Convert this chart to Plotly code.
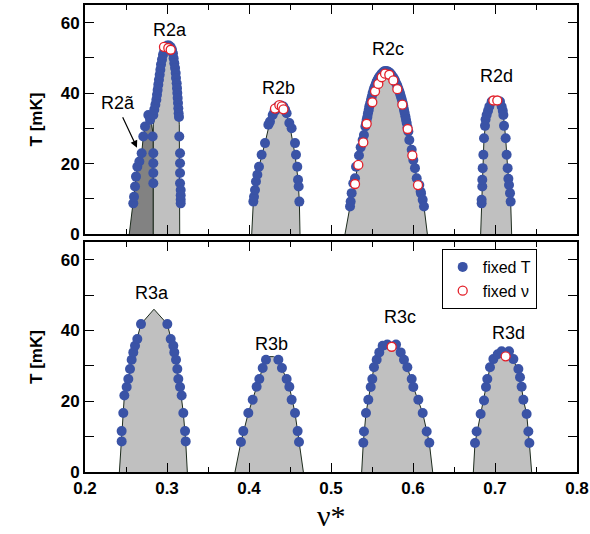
import plotly.graph_objects as go

# ---------------- data (nu*, T in mK) ----------------
# dome outlines, top panel
r2t_ox = [0.2540, 0.2589, 0.2610, 0.2638, 0.2663, 0.2691, 0.2711, 0.2732, 0.2772, 0.2813, 0.2833, 0.2833]
r2t_oT = [0, 8.7, 13.5, 19.1, 20.6, 22.9, 27.7, 30.5, 33.8, 31.0, 28.0, 0]
r2a_ox = [0.2833, 0.2833, 0.2854, 0.2894, 0.2935, 0.2984, 0.3024, 0.3073, 0.3106, 0.3126, 0.3142, 0.3150, 0.3155]
r2a_oT = [0, 31.0, 33.8, 42.4, 49.5, 53.1, 53.5, 51.2, 45.7, 40.0, 34.3, 31.0, 0]
r2b_ox = [0.4033, 0.4053, 0.4085, 0.4122, 0.4195, 0.4256, 0.4329, 0.4370, 0.4419, 0.4492, 0.4561, 0.4598, 0.4614, 0.4622]
r2b_oT = [0, 9.2, 14.9, 19.1, 25.8, 31.9, 35.3, 36.8, 36.2, 31.5, 22.5, 15.4, 9.2, 0]
r2c_ox = [0.5171, 0.5232, 0.5293, 0.5341, 0.5386, 0.5435, 0.5508, 0.5577, 0.5650, 0.5687, 0.5752, 0.5833, 0.5907, 0.5984, 0.6045, 0.6098, 0.6134, 0.6175]
r2c_oT = [0, 7.8, 14.2, 22.5, 26.7, 32.4, 40.0, 44.5, 46.2, 46.2, 44.7, 40.5, 33.4, 23.9, 16.0, 9.2, 7.8, 0]
r2d_ox = [0.6825, 0.6837, 0.6850, 0.6866, 0.6898, 0.6959, 0.7008, 0.7061, 0.7102, 0.7130, 0.7154, 0.7191, 0.7203]
r2d_oT = [0, 8.7, 18.7, 27.2, 33.8, 37.6, 38.6, 37.6, 33.8, 27.2, 18.7, 9.2, 0]

# dome outlines, bottom panel
r3a_ox = [0.2419, 0.2447, 0.2480, 0.2528, 0.2589, 0.2683, 0.2841, 0.3004, 0.3089, 0.3159, 0.3199, 0.3228, 0.3248]
r3a_oT = [0, 8.65, 21.6, 26.3, 33.8, 41.8, 46.0, 41.8, 33.8, 24.0, 16.7, 8.65, 0]
r3b_ox = [0.3829, 0.3902, 0.3992, 0.4093, 0.4167, 0.4207, 0.4230, 0.4300, 0.4358, 0.4402, 0.4492, 0.4561, 0.4610, 0.4663]
r3b_oT = [0, 8.46, 16.7, 24.1, 29.4, 31.7, 32.6, 32.6, 31.7, 29.4, 24.1, 16.7, 8.46, 0]
r3c_ox = [0.5374, 0.5394, 0.5427, 0.5484, 0.5524, 0.5589, 0.5687, 0.5740, 0.5793, 0.5850, 0.5931, 0.6004, 0.6118, 0.6199, 0.6240]
r3c_oT = [0, 8.27, 16.7, 24.0, 29.6, 33.8, 36.0, 36.6, 36.0, 33.8, 29.6, 24.0, 16.7, 8.27, 0]
r3d_ox = [0.6736, 0.6756, 0.6825, 0.6890, 0.6939, 0.7033, 0.7130, 0.7224, 0.7305, 0.7346, 0.7386, 0.7419, 0.7447]
r3d_oT = [0, 8.18, 16.4, 24.0, 29.6, 33.3, 34.3, 31.9, 26.8, 20.4, 16.4, 8.18, 0]

# fixed-T measurements (blue dots), top panel
r2t_x = [0.2589, 0.2598, 0.2610, 0.2622, 0.2638, 0.2663, 0.2691, 0.2711, 0.2732, 0.2772, 0.2793,
         0.2825, 0.2833, 0.2833, 0.2833, 0.2833]
r2t_T = [8.7, 10.6, 13.5, 16.3, 19.1, 20.6, 22.9, 27.7, 30.5, 33.8, 32.4,
         27.7, 22.9, 20.1, 17.3, 14.4]
r2a_x = [0.2833, 0.2845, 0.2858, 0.2870, 0.2878, 0.2886, 0.2894, 0.2902, 0.2911, 0.2919, 0.2927, 0.2939,
         0.2951, 0.2967, 0.2984, 0.3004, 0.3024, 0.3045, 0.3061, 0.3073, 0.3081, 0.3089, 0.3098, 0.3106,
         0.3110, 0.3118, 0.3122, 0.3126, 0.3130, 0.3134, 0.3138, 0.3142, 0.3146,
         0.3150, 0.3159, 0.3159, 0.3159, 0.3159, 0.3167, 0.3167, 0.3167, 0.3167]
r2a_T = [33.8, 35.3, 36.7, 38.1, 39.5, 40.9, 42.4, 43.8, 45.2, 46.6, 48.1, 49.5,
         50.9, 52.1, 53.1, 53.5, 53.5, 53.1, 52.3, 51.2, 49.9, 48.5, 47.1, 45.7,
         44.3, 42.8, 41.4, 40.0, 38.6, 37.2, 35.7, 34.3, 33.2,
         27.7, 22.9, 20.1, 17.3, 14.4, 12.5, 9.7, 8.7, 11.0]
r2b_x = [0.4053, 0.4061, 0.4073, 0.4085, 0.4102, 0.4122, 0.4154, 0.4195, 0.4236, 0.4256, 0.4289, 0.4310,
         0.4329, 0.4350, 0.4390, 0.4419, 0.4440, 0.4459, 0.4492, 0.4520, 0.4561, 0.4573, 0.4589, 0.4598,
         0.4606, 0.4614]
r2b_T = [9.2, 10.6, 12.5, 14.9, 16.8, 19.1, 22.5, 25.8, 31.0, 31.9, 33.8, 34.8,
         35.3, 36.2, 36.5, 36.2, 35.3, 34.3, 31.5, 30.0, 25.8, 22.5, 19.1, 15.4,
         13.5, 9.2]
r2c_x = [0.5232, 0.5240, 0.5252, 0.5272, 0.5293, 0.5305, 0.5341, 0.5362, 0.5386, 0.5402, 0.5419, 0.5435,
         0.5451, 0.5467, 0.5488, 0.5508, 0.5532, 0.5557, 0.5585, 0.5618, 0.5650, 0.5687, 0.5720, 0.5752,
         0.5780, 0.5809, 0.5833, 0.5854, 0.5874, 0.5890, 0.5907, 0.5923, 0.5943, 0.5955, 0.5984, 0.6004,
         0.6024, 0.6045, 0.6077, 0.6093, 0.6098, 0.6118, 0.6134,
         0.5428, 0.5444, 0.5460, 0.5478, 0.5498, 0.5520, 0.5545, 0.5571, 0.5600, 0.5634, 0.5668, 0.5704,
         0.5736, 0.5766, 0.5795, 0.5821, 0.5844, 0.5864, 0.5882, 0.5898, 0.5915, 0.5933]
r2c_T = [7.8, 9.2, 11.6, 14.4, 15.8, 19.1, 22.3, 24.6, 26.7, 28.1, 30.5, 32.4,
         34.3, 36.2, 38.1, 40.0, 41.7, 43.3, 44.5, 45.5, 46.2, 46.2, 45.7, 44.7,
         43.6, 42.1, 40.5, 38.9, 37.2, 35.3, 33.4, 31.5, 29.1, 26.7, 23.9, 21.0,
         18.7, 15.8, 13.9, 12.0, 11.5, 9.7, 7.8,
         31.4, 33.3, 35.2, 37.1, 39.0, 40.9, 42.5, 43.9, 45.0, 45.9, 46.3, 46.0,
         45.2, 44.2, 42.8, 41.3, 39.7, 38.1, 36.3, 34.4, 32.4, 30.3]
r2d_x = [0.6837, 0.6837, 0.6845, 0.6845, 0.6850, 0.6858, 0.6866, 0.6878, 0.6885, 0.6898, 0.6915, 0.6931,
         0.6959, 0.7061, 0.7081, 0.7095, 0.7102, 0.7110, 0.7130, 0.7142, 0.7154, 0.7163, 0.7171, 0.7183,
         0.7191]
r2d_T = [8.7, 9.7, 13.5, 15.4, 18.7, 22.5, 27.2, 30.7, 32.5, 33.8, 35.0, 36.2,
         37.6, 37.6, 36.2, 35.0, 33.8, 30.7, 27.2, 22.5, 18.7, 15.7, 13.9, 11.6,
         9.2]

# fixed-T measurements (blue dots), bottom panel
r3a_x = [0.2447, 0.2447, 0.2467, 0.2480, 0.2508, 0.2528, 0.2549, 0.2569, 0.2589, 0.2610, 0.2638, 0.2683,
         0.3004, 0.3045, 0.3077, 0.3089, 0.3110, 0.3126, 0.3138, 0.3159, 0.3179, 0.3199, 0.3220, 0.3228]
r3a_T = [8.65, 11.56, 16.7, 21.6, 24.0, 26.3, 29.1, 31.7, 33.8, 35.7, 37.6, 41.8,
         41.8, 37.6, 35.7, 33.8, 31.7, 29.1, 26.3, 24.0, 21.6, 16.7, 11.56, 8.65]
r3b_x = [0.3902, 0.3931, 0.3992, 0.4045, 0.4093, 0.4126, 0.4167, 0.4207,
         0.4358, 0.4402, 0.4459, 0.4492, 0.4520, 0.4561, 0.4593, 0.4610]
r3b_T = [8.46, 11.56, 16.7, 20.4, 24.1, 26.3, 29.4, 31.7,
         31.7, 29.4, 26.3, 24.1, 20.4, 16.7, 11.56, 8.46]
r3c_x = [0.5394, 0.5402, 0.5427, 0.5455, 0.5484, 0.5504, 0.5524, 0.5557, 0.5589, 0.5630, 0.5687,
         0.5793, 0.5850, 0.5890, 0.5931, 0.5984, 0.6004, 0.6065, 0.6118, 0.6167, 0.6199]
r3c_T = [8.27, 11.46, 16.7, 20.4, 24.0, 26.3, 29.6, 31.7, 33.8, 35.7, 36.0,
         36.0, 33.8, 31.7, 29.6, 26.3, 24.0, 20.4, 16.7, 11.46, 8.27]
r3d_x = [0.6756, 0.6776, 0.6825, 0.6866, 0.6890, 0.6906, 0.6939, 0.6980, 0.7033, 0.7081,
         0.7171, 0.7224, 0.7285, 0.7305, 0.7325, 0.7346, 0.7386, 0.7407, 0.7419]
r3d_T = [8.18, 11.46, 16.4, 20.2, 24.0, 26.3, 29.6, 31.9, 33.3, 34.1,
         34.1, 31.9, 29.1, 26.8, 24.1, 20.4, 16.4, 11.46, 8.18]

# fixed-nu measurements (red open circles)
nu_top_x = [0.2963, 0.3016, 0.3045,
            0.4317, 0.4370, 0.4400, 0.4420,
            0.5293, 0.5333, 0.5394, 0.5435, 0.5504, 0.5537, 0.5577, 0.5618, 0.5659, 0.5711,
            0.5760, 0.5809, 0.5870, 0.5935, 0.5992, 0.6061,
            0.6980, 0.7028]
nu_top_T = [53.1, 52.8, 52.3,
            35.6, 36.6, 36.2, 35.4,
            14.2, 19.6, 26.0, 31.3, 37.4, 40.5, 42.6, 44.5, 45.5, 45.2,
            43.6, 41.1, 36.7, 29.8, 22.3, 13.9,
            37.9, 37.9]
nu_bot_x = [0.5740, 0.7130]
nu_bot_T = [35.4, 32.7]

# ---------------- figure ----------------
LIGHT = "#c0c0c0"
DARK = "#828282"
BLUE = "#3a53a6"
RED = "#e3202a"
OUT = "#1d2b1d"

fig = go.Figure()

def dome(x, T, fill, xa, ya):
    fig.add_trace(go.Scatter(x=x, y=T, mode="lines", fill="toself", fillcolor=fill,
                             line=dict(color=OUT, width=1), xaxis=xa, yaxis=ya,
                             showlegend=False, hoverinfo="skip"))

dome(r2t_ox, r2t_oT, DARK, "x", "y")
dome(r2a_ox, r2a_oT, LIGHT, "x", "y")
dome(r2b_ox, r2b_oT, LIGHT, "x", "y")
dome(r2c_ox, r2c_oT, LIGHT, "x", "y")
dome(r2d_ox, r2d_oT, LIGHT, "x", "y")
dome(r3a_ox, r3a_oT, LIGHT, "x2", "y2")
dome(r3b_ox, r3b_oT, LIGHT, "x2", "y2")
dome(r3c_ox, r3c_oT, LIGHT, "x2", "y2")
dome(r3d_ox, r3d_oT, LIGHT, "x2", "y2")

blue_m = dict(color=BLUE, size=10, line=dict(width=0))
red_m = dict(color="white", size=9, line=dict(color=RED, width=1.3))

top_bx = r2t_x + r2a_x + r2b_x + r2c_x + r2d_x
top_bT = r2t_T + r2a_T + r2b_T + r2c_T + r2d_T
bot_bx = r3a_x + r3b_x + r3c_x + r3d_x
bot_bT = r3a_T + r3b_T + r3c_T + r3d_T

fig.add_trace(go.Scatter(x=top_bx, y=top_bT, mode="markers", marker=blue_m,
                         xaxis="x", yaxis="y", showlegend=False))
fig.add_trace(go.Scatter(x=nu_top_x, y=nu_top_T, mode="markers", marker=red_m,
                         xaxis="x", yaxis="y", showlegend=False))
fig.add_trace(go.Scatter(x=bot_bx, y=bot_bT, mode="markers", marker=blue_m,
                         xaxis="x2", yaxis="y2", name="fixed T"))
fig.add_trace(go.Scatter(x=nu_bot_x, y=nu_bot_T, mode="markers", marker=red_m,
                         xaxis="x2", yaxis="y2", name="fixed \u03bd"))

common_x = dict(range=[0.2, 0.8], dtick=0.1, ticks="inside", ticklen=9, tickwidth=1.3,
                showline=True, linecolor="black", linewidth=2, mirror="ticks",
                showgrid=False, zeroline=False, tickcolor="black", automargin=False,
                minor=dict(dtick=0.05, ticks="inside", ticklen=5, tickwidth=1.3, tickcolor="black", showgrid=False))
common_y = dict(range=[0, 65], dtick=20, ticks="inside", ticklen=9, tickwidth=1.3,
                showline=True, linecolor="black", linewidth=2, mirror="ticks",
                showgrid=False, zeroline=False, tickcolor="black", automargin=False,
                minor=dict(dtick=10, ticks="inside", ticklen=9, tickwidth=1.3, tickcolor="black", showgrid=False),
                tickfont=dict(family="Liberation Sans", size=17, color="black"),
                title=dict(text="<b>T [mK]</b>", font=dict(family="Liberation Sans", size=17, color="black"),
                           standoff=14))

fig.update_layout(
    width=590, height=534,
    margin=dict(l=85, r=13, t=5, b=62),
    paper_bgcolor="white", plot_bgcolor="white",
    xaxis=dict(domain=[0, 1], anchor="y", showticklabels=False, **common_x),
    yaxis=dict(domain=[0.5096, 1], anchor="x", **common_y),
    xaxis2=dict(domain=[0, 1], anchor="y2", showticklabels=True,
                tickfont=dict(family="Liberation Sans", size=17, color="black"),
                tickformat=".1f", **common_x),
    yaxis2=dict(domain=[0, 0.4925], anchor="x2", **common_y),
    legend=dict(x=0.725, y=0.4775, xanchor="left", yanchor="top",
                bgcolor="white", bordercolor="black", borderwidth=1,
                font=dict(family="Liberation Sans", size=16, color="black"),
                itemwidth=30, tracegroupgap=2),
    showlegend=True,
)
fig.update_xaxes(tickprefix="<b>", ticksuffix="</b>")
fig.update_yaxes(tickprefix="<b>", ticksuffix="</b>")

lab = dict(family="Liberation Sans", size=18, color="black")
for txt, x, y, xr, yr in [("R2a", 0.3037, 58.0, "x", "y"), ("R2b", 0.4354, 41.5, "x", "y"),
                          ("R2c", 0.5695, 52.6, "x", "y"), ("R2d", 0.7024, 44.9, "x", "y"),
                          ("R2\u00e3", 0.2402, 37.2, "x", "y"),
                          ("R3a", 0.2817, 50.7, "x2", "y2"), ("R3b", 0.4280, 36.3, "x2", "y2"),
                          ("R3c", 0.5841, 43.7, "x2", "y2"), ("R3d", 0.7159, 39.4, "x2", "y2")]:
    fig.add_annotation(text=txt, x=x, y=y, xref=xr, yref=yr, showarrow=False, font=lab)

fig.add_annotation(x=0.2634, y=24.5, ax=0.2451, ay=33.6, xref="x", yref="y", axref="x", ayref="y",
                   text="", showarrow=True, arrowhead=2, arrowsize=1.2, arrowwidth=1.2, arrowcolor="black")

fig.add_annotation(text="\u03bd*", x=0.5, y=-0.094, xref="paper", yref="paper", showarrow=False,
                   yanchor="middle", font=dict(family="Liberation Serif", size=30, color="black"))

fig.write_html("out.html", config={"displayModeBar": False},
               post_script="document.body.style.margin='0';document.body.style.overflow='hidden';")
